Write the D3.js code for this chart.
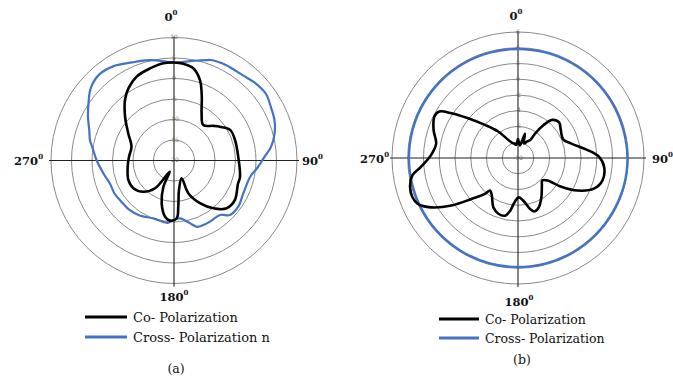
<!DOCTYPE html>
<html><head><meta charset="utf-8">
<script src="https://cdn.jsdelivr.net/npm/d3@7"></script>
<style>html,body{margin:0;padding:0;background:#fff;}svg{display:block;}
svg text{font-family:"DejaVu Serif",serif;}</style>
</head><body>
<svg id="chart" width="673" height="378"></svg>
<script>
// ---- data (a) ----
const aRingValues = [-15, -10, -5, 0, 5, 10];
const aTickLabels = [-20, -15, -10, -5, 0, 5, 10];
const aCoAngles = [0, 5.5, 11.8, 17.9, 23.5, 30.4, 39.5, 48.7, 53.7, 61.4, 71.4, 87, 104, 110, 122.9, 132.2, 140.6, 148.7, 156.4, 156.8, 170.4, 174.7, 177.3, 183.8, 189, 196, 202, 201, 214.3, 224.5, 235.7, 246.9, 262.4, 275, 288, 300.8, 311.8, 321, 327.7, 336, 345.4, 353.7];
const aCoValues = [3.9, 3.7, 3.0, 0.6, -3.0, -6.7, -8.8, -7.2, -6.1, -4.4, -4.3, -4.3, -3.4, -3.4, -2.3, -2.65, -4.9, -7.8, -11.3, -15.3, -12.7, -8.7, -5.9, -5.3, -6.1, -9.1, -13.1, -17.1, -11.8, -9.3, -8.0, -7.9, -8.6, -9.0, -9.1, -7.0, -4.0, -1.0, 0.8, 2.4, 3.2, 3.85];
const aCrossAngles = [0, 10.5, 17, 21, 28.5, 38.8, 46.8, 54, 61, 68.2, 75, 82, 88, 94.6, 102, 115, 125.7, 134.2, 139.8, 149.5, 155.6, 161, 165.7, 174, 180.6, 185.2, 189.9, 199.7, 212, 222, 232, 241, 250, 258.7, 270, 279.3, 283.7, 290, 296.8, 305, 311, 318.9, 327.5, 336.9, 343.9, 350, 355.2];
const aCrossValues = [3.9, 4.7, 5.6, 6.2, 6.5, 6.7, 7.4, 7.7, 7.0, 6.4, 5.4, 3.9, 2.0, 0.5, -1.0, -1.3, -0.7, -0.95, -2.6, -2.7, -2.7, -2.9, -4.2, -5.8, -5.5, -4.75, -4.8, -5.0, -4.2, -3.8, -3.7, -3.4, -3.4, -2.6, -1.15, 0.2, 1.1, 2.0, 3.5, 5.4, 6.9, 7.8, 7.3, 6.0, 5.4, 4.8, 4.2];

// ---- data (b) ----
const bRingValues = [-8, -6, -4, -2, 0, 2, 4, 6];
const bTickLabels = [-10, -8, -6, -4, -2, 0, 2, 4, 6];
const bCoAngles = [0, 8, 16, 22, 29, 34.4, 35, 37.9, 41.9, 49.1, 56.6, 67.6, 74.5, 83.5, 89.2, 96, 104.8, 112, 118.7, 123.7, 127.5, 132.9, 138.7, 149.2, 157.2, 163, 166.4, 172.6, 179, 185.6, 188.5, 192.6, 199.4, 206.6, 215, 220.8, 222.7, 228.7, 234.5, 240.4, 245.4, 249.6, 254.9, 260.7, 264.7, 271.9, 279.9, 288.4, 296.4, 300.6, 303.9, 308.6, 315, 323.2, 338, 345, 352];
const bCoValues = [-7.6, -8.4, -6.8, -8.0, -7.6, -7.2, -6.2, -4.7, -3.5, -3.1, -3.5, -3.8, -3.05, -1.1, 0.3, 1.0, 1.1, 0.4, -1.4, -3.5, -5.3, -5.8, -5.4, -4.2, -3.2, -2.9, -3.3, -4.5, -5.0, -4.1, -3.2, -2.5, -2.5, -3.0, -4.2, -4.55, -3.8, -2.1, 0.4, 2.7, 4.0, 4.3, 4.2, 3.6, 2.4, 1.05, 0.55, 1.3, 1.85, 1.6, 0.2, -1.9, -4.05, -5.8, -7.9, -8.1, -8.3];
const bCrossAngles = [0, 15, 30, 45, 60, 75, 90, 105, 120, 135, 150, 165, 180, 195, 210, 225, 240, 255, 270, 285, 300, 315, 330, 345];
const bCrossValues = [3.85, 3.85, 3.85, 3.85, 3.85, 3.85, 3.9, 3.9, 3.85, 3.85, 3.85, 3.85, 3.85, 3.85, 3.85, 3.85, 3.85, 3.85, 3.85, 3.85, 3.85, 3.85, 3.85, 3.85];

const seriesNames = ["Co- Polarization", "Cross- Polarization n", "Cross- Polarization"];
const seriesColors = ["#000000", "#4472C4"];
const axisDirLabels = ["0", "90", "180", "270"];

const svg = d3.select("#chart");

function drawPolar(cx, cy, R, domain, rings, ticks, series, dirPos) {
  const g = svg.append("g").attr("transform", `translate(${cx},${cy})`);
  const r = d3.scaleLinear().domain(domain).range([0, R]);
  g.selectAll("circle.ring").data(rings).join("circle")
    .attr("r", d => r(d)).attr("fill", "none")
    .attr("stroke", "#8a8a8a").attr("stroke-width", 1);
  g.append("line").attr("x1", -R - 2).attr("x2", R + 2).attr("y1", 0).attr("y2", 0)
    .attr("stroke", "#222").attr("stroke-width", 1.1);
  g.append("line").attr("x1", 0).attr("x2", 0).attr("y1", -R - 1).attr("y2", R + 3)
    .attr("stroke", "#222").attr("stroke-width", 1.1);
  g.selectAll("text.tick").data(ticks).join("text")
    .attr("x", 0).attr("y", d => -r(d)).attr("text-anchor", "middle")
    .attr("dominant-baseline", "middle")
    .style("font-size", "6px").attr("fill", "#666")
    .text(d => d);
  const line = d3.lineRadial()
    .angle(d => d[0] * Math.PI / 180)
    .radius(d => r(d[1]))
    .curve(d3.curveCatmullRomClosed.alpha(0.5));
  series.forEach(s => {
    const pts = s.angles.map((a, i) => [a, s.values[i]]);
    g.append("path").attr("d", line(pts)).attr("fill", "none")
      .attr("stroke", s.color).attr("stroke-width", s.width)
      .attr("stroke-linejoin", "round");
  });
  dirPos.forEach((p, i) => {
    const t = svg.append("text").attr("x", p[0]).attr("y", p[1])
      .attr("text-anchor", p[2]).attr("dominant-baseline", "middle")
      .style("font-weight", "bold").style("font-size", "11.5px").attr("fill", "#111");
    t.append("tspan").text(axisDirLabels[i]);
    t.append("tspan").style("font-size", "7px").attr("dy", -5).text("0");
  });
}

drawPolar(174, 160.5, 123, [-20, 10], aRingValues, aTickLabels, [
  {angles: aCrossAngles, values: aCrossValues, color: seriesColors[1], width: 2.2},
  {angles: aCoAngles, values: aCoValues, color: seriesColors[0], width: 2.6}
], [[171, 18, "middle"], [302, 162, "start"], [174, 298, "middle"], [43, 162, "end"]]);

drawPolar(518, 158, 126, [-10, 6], bRingValues, bTickLabels, [
  {angles: bCrossAngles, values: bCrossValues, color: seriesColors[1], width: 2.4},
  {angles: bCoAngles, values: bCoValues, color: seriesColors[0], width: 2.6}
], [[516, 17, "middle"], [652, 160, "start"], [519, 303, "middle"], [389, 160, "end"]]);

function legend(x, y0, dy, names, fs, lw) {
  names.forEach((n, i) => {
    const y = y0 + i * dy;
    svg.append("line").attr("x1", x).attr("x2", x + lw).attr("y1", y).attr("y2", y)
      .attr("stroke", seriesColors[i]).attr("stroke-width", 3);
    svg.append("text").attr("x", x + lw + 6).attr("y", y + 1).attr("dominant-baseline", "middle")
      .style("font-size", fs + "px").attr("fill", "#111").text(n);
  });
}
legend(85, 317, 20, [seriesNames[0], seriesNames[1]], 13, 42);
legend(439, 319, 19, [seriesNames[0], seriesNames[2]], 12.5, 40);

svg.append("text").attr("x", 176).attr("y", 369).attr("text-anchor", "middle").attr("dominant-baseline", "middle")
  .style("font-size", "12.5px").attr("fill", "#111").text("(a)");
svg.append("text").attr("x", 522).attr("y", 360).attr("text-anchor", "middle").attr("dominant-baseline", "middle")
  .style("font-size", "12.5px").attr("fill", "#111").text("(b)");
</script>
</body></html>
